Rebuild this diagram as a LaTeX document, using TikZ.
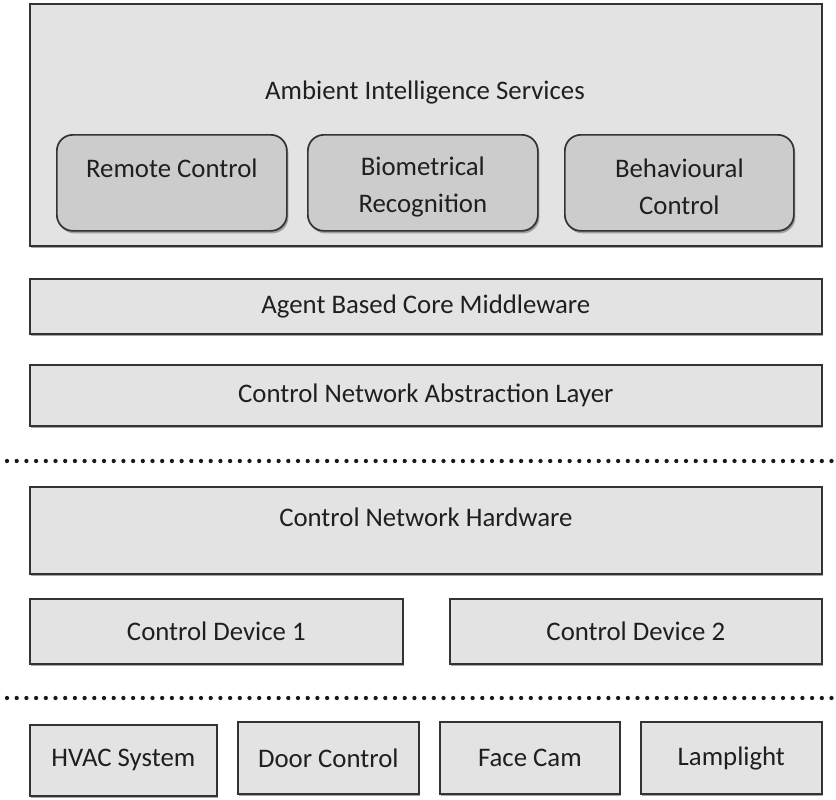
\documentclass[tikz,border=0pt]{standalone}
\usepackage{fontspec}
\setmainfont{Carlito}
\usetikzlibrary{shadows}
\begin{document}
\begin{tikzpicture}[x=1pt,y=-1pt,
  txt/.style={font=\fontsize{26.8}{37}\selectfont, align=center, text=black!88},
  layer/.style={draw=black!80, line width=1.7pt, fill=black!11, inner sep=0pt,
    drop shadow={shadow xshift=1.5pt, shadow yshift=-2.5pt, fill=black!50, opacity=0.7},
    txt},
  svc/.style={layer, fill=black!20, rounded corners=16pt},
  sep/.style={line width=4.3pt, line cap=round, dash pattern=on 0pt off 9.7pt, black!90}]
\useasboundingbox (0,0) rectangle (836,800);
% outer services box
\node[layer, minimum width=792pt, minimum height=242pt, anchor=north west] (ais) at (29,3) {};
\node[txt] (aist) at (425,92) {Ambient Intelligence Services};
\node[svc, minimum width=230pt, minimum height=96pt, anchor=north west,
  label={[txt, yshift=-4pt, text depth=37pt]center:Remote Control}] (rc) at (56,134) {};
\node[svc, minimum width=230pt, minimum height=96pt, anchor=north west,
  label={[txt, yshift=-4pt]center:Biometrical\\Recognition}] (bio) at (307,134) {};
\node[svc, minimum width=229pt, minimum height=96pt, anchor=north west,
  label={[txt, yshift=-4pt]center:Behavioural\\Control}] (beh) at (564,134) {};
% middleware layers
\node[layer, minimum width=792pt, minimum height=55pt, anchor=north west] (abcm) at (29,278) {Agent Based Core Middleware};
\node[layer, minimum width=792pt, minimum height=61pt, anchor=north west] (cnal) at (29,364) {Control Network Abstraction Layer};
% separator
\coordinate (s1a) at (7,461);
\coordinate (s1b) at (836,461);
\draw[sep] (s1a) -- (s1b);
% hardware
\node[layer, minimum width=792pt, minimum height=87pt, anchor=north west, text depth=26pt] (cnh) at (29,486) {Control Network Hardware};
\node[layer, minimum width=373pt, minimum height=65pt, anchor=north west] (cd1) at (29,598) {Control Device 1};
\node[layer, minimum width=372pt, minimum height=65pt, anchor=north west] (cd2) at (449,598) {Control Device 2};
% separator
\coordinate (s2a) at (7,698);
\coordinate (s2b) at (836,698);
\draw[sep] (s2a) -- (s2b);
% devices
\node[layer, minimum width=187pt, minimum height=71pt, anchor=north west] (hvac) at (29,724) {HVAC System};
\node[layer, minimum width=181pt, minimum height=72pt, anchor=north west] (door) at (237,721) {Door Control};
\node[layer, minimum width=180pt, minimum height=72pt, anchor=north west] (cam) at (439,721) {Face Cam};
\node[layer, minimum width=181pt, minimum height=72pt, anchor=north west, text depth=4pt] (lamp) at (640,721) {Lamplight};
\end{tikzpicture}
\end{document}
